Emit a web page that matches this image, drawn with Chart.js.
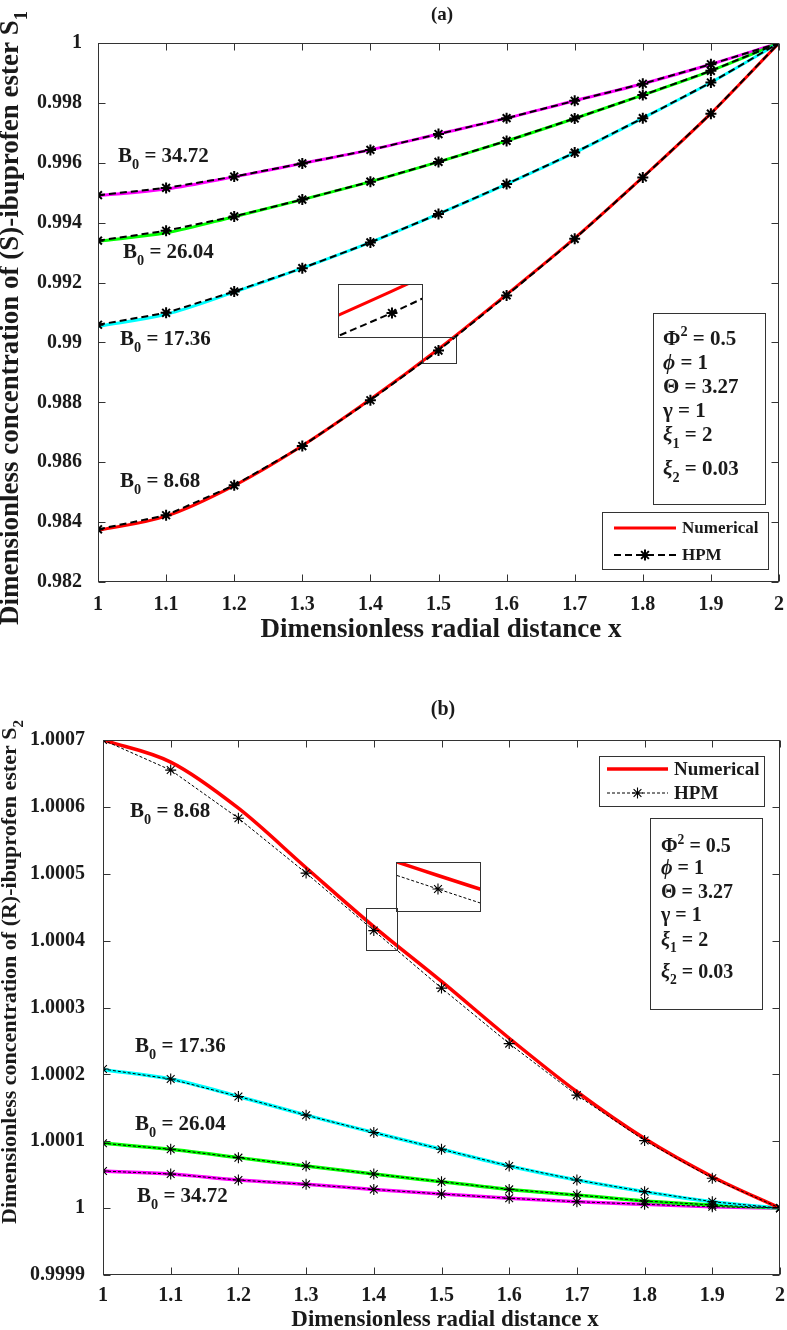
<!DOCTYPE html>
<html>
<head>
<meta charset="utf-8">
<script src="https://cdn.jsdelivr.net/npm/chart.js@4.4.0/dist/chart.umd.min.js"></script>
<style>
  body { margin: 0; background: #fff; }
  #wrap { position: relative; width: 787px; height: 1330px; }
  .box { position: absolute; }
</style>
</head>
<body>
<div id="wrap">
  <div class="box" style="left:0;top:0;width:787px;height:660px"><canvas id="chartA"></canvas></div>
  <div class="box" style="left:0;top:660px;width:787px;height:670px"><canvas id="chartB"></canvas></div>
  <div class="box" style="left:338px;top:284px;width:85px;height:54px"><canvas id="insetA"></canvas></div>
  <div class="box" style="left:396px;top:862px;width:85px;height:50px"><canvas id="insetB"></canvas></div>
</div>
<script>
const FAMILY = "'Liberation Serif', 'Times New Roman', serif";
Chart.defaults.font.family = FAMILY;
Chart.defaults.font.weight = 'bold';
Chart.defaults.color = '#1a1a1a';
Chart.defaults.animation = false;

// x positions (radial distance)
const xValues = [1, 1.1, 1.2, 1.3, 1.4, 1.5, 1.6, 1.7, 1.8, 1.9, 2];
const b0Values = ['8.68', '17.36', '26.04', '34.72'];
const lineColors = ['#ff0000', '#00ffff', '#00ff00', '#ff00ff'];

// (a) S1 - numerical
const s1Num868  = [0.98372, 0.98420, 0.98522, 0.98655, 0.98810, 0.98978, 0.99160, 0.99348, 0.99552, 0.99765, 1];
const s1Num1736 = [0.99054, 0.99094, 0.99168, 0.99248, 0.99334, 0.99429, 0.99529, 0.99634, 0.99749, 0.99868, 1];
const s1Num2604 = [0.99338, 0.99366, 0.99420, 0.99477, 0.99537, 0.99603, 0.99673, 0.99748, 0.99826, 0.99907, 1];
const s1Num3472 = [0.99490, 0.99512, 0.99553, 0.99598, 0.99643, 0.99696, 0.99749, 0.99807, 0.99864, 0.99929, 1];
// (a) S1 - HPM
const s1Hpm868  = [0.98376, 0.98423, 0.98523, 0.98654, 0.98807, 0.98973, 0.99157, 0.99346, 0.99551, 0.99764, 1];
const s1Hpm1736 = [0.99059, 0.99099, 0.99170, 0.99248, 0.99334, 0.99429, 0.99529, 0.99634, 0.99749, 0.99868, 1];
const s1Hpm2604 = [0.99340, 0.99373, 0.99421, 0.99477, 0.99537, 0.99603, 0.99673, 0.99748, 0.99826, 0.99907, 1];
const s1Hpm3472 = [0.99492, 0.99516, 0.99554, 0.99598, 0.99643, 0.99696, 0.99749, 0.99807, 0.99864, 0.99929, 1];

// (b) S2 - numerical
const s2Num868  = [1.0007, 1.000667, 1.000598, 1.000509, 1.000421, 1.000339, 1.000254, 1.000174, 1.000104, 1.000047, 1];
const s2Num1736 = [1.000207, 1.000193, 1.000167, 1.000139, 1.000113, 1.000088, 1.000063, 1.000042, 1.0000246, 1.0000096, 1];
const s2Num2604 = [1.000097, 1.000088, 1.0000755, 1.000063, 1.000051, 1.0000395, 1.000028, 1.0000196, 1.0000107, 1.0000047, 1];
const s2Num3472 = [1.0000555, 1.000051, 1.000042, 1.0000356, 1.000028, 1.0000211, 1.0000147, 1.0000096, 1.0000057, 1.0000022, 1];
// (b) S2 - HPM
const s2Hpm868  = [1.0007, 1.000655, 1.000583, 1.000501, 1.000415, 1.000329, 1.000246, 1.000169, 1.000101, 1.0000446, 1];
const s2Hpm1736 = [1.000208, 1.000193, 1.000167, 1.000139, 1.000113, 1.000088, 1.000063, 1.000042, 1.0000246, 1.0000096, 1];
const s2Hpm2604 = [1.000097, 1.000088, 1.0000755, 1.000063, 1.000051, 1.0000395, 1.000028, 1.0000196, 1.0000107, 1.0000047, 1];
const s2Hpm3472 = [1.0000555, 1.000051, 1.000042, 1.0000356, 1.000028, 1.0000211, 1.0000147, 1.0000096, 1.0000057, 1.0000022, 1];

function pts(ys) { return ys.map((y, i) => ({ x: xValues[i], y: y })); }

function hpmSet(ys, thin) {
  return {
    data: pts(ys), borderColor: '#000', backgroundColor: '#000',
    borderWidth: thin ? 1 : 2, borderDash: thin ? [3, 2] : [7, 4],
    pointStyle: 'star', pointRadius: 5.5, pointBorderWidth: thin ? 1.1 : 2,
    pointBorderColor: '#000', tension: 0, fill: false
  };
}
function numSet(ys, color, w) {
  return {
    data: pts(ys), borderColor: color, borderWidth: w, pointRadius: 0,
    cubicInterpolationMode: 'monotone', fill: false
  };
}

function setFont(ctx, size, style) {
  ctx.font = (style || 'bold') + ' ' + size + 'px ' + FAMILY;
}
// parts: [text, kind]  kind: '' | 'sub' | 'sup' | 'it'
function rich(ctx, x, y, parts, size, measureOnly) {
  let cx = x;
  for (const [t, kind] of parts) {
    let s = size, dy = 0, st = 'bold';
    if (kind === 'sub') { s = size * 0.68; dy = size * 0.32; }
    if (kind === 'sup') { s = size * 0.68; dy = -size * 0.42; }
    if (kind === 'it') st = 'italic bold';
    setFont(ctx, s, st);
    if (!measureOnly) ctx.fillText(t, cx, y + dy);
    cx += ctx.measureText(t).width;
  }
  return cx - x;
}

function paramLines() {
  return [
    [['\u03A6', ''], ['2', 'sup'], [' = 0.5', '']],
    [['\u03D5', 'it'], [' = 1', '']],
    [['\u0398', ''], [' = 3.27', '']],
    [['\u03B3', ''], [' = 1', '']],
    [['\u03BE', 'it'], ['1', 'sub'], [' = 2', '']],
    [['\u03BE', 'it'], ['2', 'sub'], [' = 0.03', '']]
  ];
}

function framePlugin(cfg) {
  return {
    id: 'frame',
    afterDraw(chart) {
      const { ctx, chartArea: a, scales: { x, y } } = chart;
      ctx.save();
      ctx.strokeStyle = '#333';
      ctx.lineWidth = 1;
      const L = Math.round(a.left) + 0.5, R = Math.round(a.right) - 0.5;
      const T = Math.round(a.top) + 0.5, B = Math.round(a.bottom) - 0.5;
      ctx.strokeRect(L, T, R - L, B - T);
      // inner ticks on all four sides
      ctx.beginPath();
      x.ticks.forEach(t => {
        const px = Math.round(x.getPixelForValue(t.value)) + 0.5;
        ctx.moveTo(px, B); ctx.lineTo(px, B - 7);
        ctx.moveTo(px, T); ctx.lineTo(px, T + 7);
      });
      y.ticks.forEach(t => {
        const py = Math.round(y.getPixelForValue(t.value)) + 0.5;
        ctx.moveTo(L, py); ctx.lineTo(L + 7, py);
        ctx.moveTo(R, py); ctx.lineTo(R - 7, py);
      });
      ctx.stroke();

      // zoom marker box
      const z = cfg.zoomBox;
      const zx0 = x.getPixelForValue(z.x0), zx1 = x.getPixelForValue(z.x1);
      const zy0 = y.getPixelForValue(z.y1), zy1 = y.getPixelForValue(z.y0);
      ctx.strokeRect(Math.round(zx0) + 0.5, Math.round(zy0) + 0.5, Math.round(zx1 - zx0), Math.round(zy1 - zy0));

      ctx.fillStyle = '#1a1a1a';
      ctx.textBaseline = 'middle';
      ctx.textAlign = 'center';
      setFont(ctx, cfg.titleSize);
      ctx.fillText(cfg.title, cfg.titlePos[0], cfg.titlePos[1]);
      setFont(ctx, cfg.xTitleSize);
      ctx.fillText('Dimensionless radial distance x', cfg.xTitlePos[0], cfg.xTitlePos[1]);

      // y title (rotated, with subscript)
      ctx.save();
      ctx.translate(cfg.yTitlePos[0], cfg.yTitlePos[1]);
      ctx.rotate(-Math.PI / 2);
      ctx.textAlign = 'left';
      ctx.textBaseline = 'alphabetic';
      const yParts = [[cfg.yTitle, ''], [cfg.ySub, 'sub']];
      const w = rich(ctx, 0, 0, yParts, cfg.yTitleSize, true);
      rich(ctx, -w / 2, cfg.yTitleSize * 0.33, yParts, cfg.yTitleSize);
      ctx.restore();

      // B0 labels
      ctx.textAlign = 'left';
      ctx.textBaseline = 'alphabetic';
      cfg.b0Pos.forEach((p, i) => {
        rich(ctx, p[0], p[1], [['B', ''], ['0', 'sub'], [' = ' + b0Values[i], '']], cfg.b0Size);
      });

      // parameter box
      const pb = cfg.paramBox;
      ctx.fillStyle = '#fff';
      ctx.fillRect(pb.x, pb.y, pb.w, pb.h);
      ctx.strokeRect(pb.x + 0.5, pb.y + 0.5, pb.w, pb.h);
      ctx.fillStyle = '#1a1a1a';
      paramLines().forEach((ln, i) => rich(ctx, pb.textX, pb.base[i], ln, pb.size));

      // legend
      const lg = cfg.legend;
      ctx.fillStyle = '#fff';
      ctx.fillRect(lg.x, lg.y, lg.w, lg.h);
      ctx.strokeRect(lg.x + 0.5, lg.y + 0.5, lg.w, lg.h);
      ctx.strokeStyle = '#ff0000';
      ctx.lineWidth = lg.redWidth;
      ctx.beginPath();
      ctx.moveTo(lg.x0, lg.rows[0]); ctx.lineTo(lg.x1, lg.rows[0]);
      ctx.stroke();
      ctx.strokeStyle = '#000';
      ctx.lineWidth = lg.dashWidth;
      ctx.setLineDash(lg.dash);
      ctx.beginPath();
      ctx.moveTo(lg.x0, lg.rows[1]); ctx.lineTo(lg.x1, lg.rows[1]);
      ctx.stroke();
      ctx.setLineDash([]);
      ctx.lineWidth = lg.starWidth;
      const sx = (lg.x0 + lg.x1) / 2, sy = lg.rows[1], r = 5.5;
      ctx.beginPath();
      for (let k = 0; k < 4; k++) {
        const ang = k * Math.PI / 4;
        ctx.moveTo(sx - r * Math.cos(ang), sy - r * Math.sin(ang));
        ctx.lineTo(sx + r * Math.cos(ang), sy + r * Math.sin(ang));
      }
      ctx.stroke();
      ctx.fillStyle = '#1a1a1a';
      ctx.textBaseline = 'middle';
      setFont(ctx, lg.size);
      ctx.fillText('Numerical', lg.textX, lg.rows[0] + 1);
      ctx.fillText('HPM', lg.textX, lg.rows[1] + 1);
      ctx.restore();
    }
  };
}

function tickFmt(digits) {
  return v => String(+Number(v).toFixed(digits));
}

function mainChart(id, nums, hpms, thin, yMin, yMax, yStep, yDigits, pad, xH, yW, yPad, xPad, cfg) {
  const datasets = [];
  hpms.forEach(h => datasets.push(hpmSet(h, thin)));
  nums.forEach((n, i) => datasets.push(numSet(n, lineColors[i], thin ? 3.5 : 3)));
  return new Chart(document.getElementById(id), {
    type: 'line',
    data: { datasets: datasets },
    options: {
      responsive: true,
      maintainAspectRatio: false,
      events: [],
      layout: { padding: pad, autoPadding: false },
      plugins: { legend: { display: false }, tooltip: { enabled: false } },
      scales: {
        x: {
          type: 'linear', min: 1, max: 2,
          grid: { display: false }, border: { display: false },
          ticks: { stepSize: 0.1, padding: xPad, maxRotation: 0, font: { size: 20, weight: 'bold' }, callback: tickFmt(1) },
          afterFit: s => { s.height = xH; }
        },
        y: {
          min: yMin, max: yMax,
          grid: { display: false }, border: { display: false },
          ticks: { stepSize: yStep, padding: yPad, font: { size: 20, weight: 'bold' }, callback: tickFmt(yDigits) },
          afterFit: s => { s.width = yW; }
        }
      }
    },
    plugins: [framePlugin(cfg)]
  });
}

mainChart('chartA',
  [s1Num868, s1Num1736, s1Num2604, s1Num3472],
  [s1Hpm868, s1Hpm1736, s1Hpm2604, s1Hpm3472],
  false, 0.982, 1, 0.002, 3,
  { top: 43, right: 7, left: 0, bottom: 0 }, 78, 98, 8, 3,
  {
    title: '(a)', titleSize: 19, titlePos: [442, 15],
    xTitleSize: 27, xTitlePos: [441, 630],
    yTitle: 'Dimensionless concentration of (S)-ibuprofen ester S', ySub: '1', yTitleSize: 27, yTitlePos: [9, 318],
    b0Size: 21, b0Pos: [[120, 487], [120, 345], [123, 258], [118, 162]],
    paramBox: { x: 653, y: 313, w: 112, h: 191, textX: 663, base: [345, 369, 393, 417, 441, 475], size: 21 },
    legend: { x: 602, y: 512, w: 166, h: 57, rows: [528, 555], x0: 614, x1: 676, textX: 682, size: 17,
              redWidth: 3, dashWidth: 2, dash: [7, 4], starWidth: 2 },
    zoomBox: { x0: 1.4765, x1: 1.5264, y0: 0.98930, y1: 0.990167 }
  });

mainChart('chartB',
  [s2Num868, s2Num1736, s2Num2604, s2Num3472],
  [s2Hpm868, s2Hpm1736, s2Hpm2604, s2Hpm3472],
  true, 0.9999, 1.0007, 0.0001, 4,
  { top: 80, right: 7, left: 0, bottom: 0 }, 55, 103, 10, 1,
  {
    title: '(b)', titleSize: 20, titlePos: [443, 50],
    xTitleSize: 23, xTitlePos: [445, 660],
    yTitle: 'Dimensionless concentration of (R)-ibuprofen ester S', ySub: '2', yTitleSize: 22, yTitlePos: [9, 312],
    b0Size: 21, b0Pos: [[130, 157], [135, 392], [135, 470], [137, 542]],
    paramBox: { x: 650, y: 158, w: 112, h: 191, textX: 661, base: [192, 214, 238, 261, 286, 318], size: 20 },
    legend: { x: 599, y: 96, w: 165, h: 50, rows: [109, 133], x0: 607, x1: 668, textX: 674, size: 19,
              redWidth: 3.5, dashWidth: 1, dash: [3, 2], starWidth: 1.1 },
    zoomBox: { x0: 1.3885, x1: 1.4343, y0: 1.000386, y1: 1.000449 }
  });

// magnified insets: same red-curve data, tight axis limits
const borderPlugin = {
  id: 'insetBorder',
  afterDraw(chart) {
    const { ctx, width, height } = chart;
    ctx.save();
    ctx.strokeStyle = '#333';
    ctx.lineWidth = 1;
    ctx.strokeRect(0.5, 0.5, width - 1, height - 1);
    ctx.restore();
  }
};
function insetChart(id, num, hpm, thin, lim) {
  return new Chart(document.getElementById(id), {
    type: 'line',
    data: { datasets: [hpmSet(hpm, thin), numSet(num, '#ff0000', thin ? 3.5 : 3)] },
    options: {
      responsive: true, maintainAspectRatio: false, events: [],
      layout: { padding: 0, autoPadding: false },
      plugins: { legend: { display: false }, tooltip: { enabled: false } },
      scales: {
        x: { type: 'linear', display: false, min: lim[0], max: lim[1] },
        y: { display: false, min: lim[2], max: lim[3] }
      }
    },
    plugins: [borderPlugin]
  });
}
insetChart('insetA', s1Num868, s1Hpm868, false, [1.496825, 1.501825, 0.989673, 0.989796]);
insetChart('insetB', s2Num868, s2Hpm868, true, [1.392847, 1.407327, 1.0004048, 1.000427]);
</script>
</body>
</html>
